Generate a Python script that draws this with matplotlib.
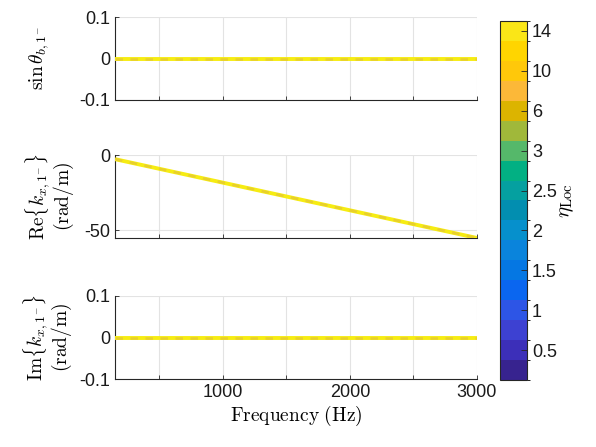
import numpy as np
import matplotlib
matplotlib.use('Agg')
import matplotlib.pyplot as plt
from matplotlib.colors import ListedColormap, BoundaryNorm

plt.rcParams['mathtext.fontset'] = 'cm'
plt.rcParams['font.family'] = ['Liberation Sans', 'DejaVu Sans']

###  data
freq = [150, 3000]
sinTheta = [0.0, 0.0]
reK = [-2.75, -55.0]
imK = [0.0, 0.0]
etaLabels = ['0.5', '1', '1.5', '2', '2.5', '3', '6', '10', '14']

###  parula-like 18 level colormap, bottom to top
cbColors = ['#37238f', '#3c2fb9', '#3d41d2', '#2d55e6', '#0a66f0', '#0577e3',
            '#0a84dc', '#0690cc', '#028eb0', '#05a0a0', '#02b083', '#55b86a',
            '#a0b83a', '#dcb400', '#fcb838', '#ffc80a', '#ffd500', '#fae617']
cmap = ListedColormap(cbColors)
norm = BoundaryNorm(np.arange(0, 19), cmap.N)

W, H = 596, 447
fig = plt.figure(figsize=(W/100, H/100), dpi=100)

def box(l, t, r, b):
    return [l/W, 1-b/H, (r-l)/W, (b-t)/H]

ax1 = fig.add_axes(box(115, 17, 477, 100))
ax2 = fig.add_axes(box(115, 155, 477, 238))
ax3 = fig.add_axes(box(115, 296, 477, 379))

lineCol = '#f6ec12'
dashCol = '#e8cf2c'
for ax, yv in [(ax1, sinTheta), (ax2, reK), (ax3, imK)]:
    ax.plot(freq, yv, color=lineCol, lw=2.8, solid_capstyle='butt', zorder=3)
    ax.plot(freq, yv, color=dashCol, lw=1.8, dashes=(3, 3), zorder=4)
    ax.set_xlim(150, 3000)
    ax.set_xticks([500, 1000, 1500, 2000, 2500, 3000])
    ax.set_xticklabels(['', '1000', '', '2000', '', '3000'])
    ax.grid(True, color='#e3e3e3', lw=0.8)
    ax.set_axisbelow(True)
    for s in ['top', 'right']:
        ax.spines[s].set_visible(False)
    for s in ['left', 'bottom']:
        ax.spines[s].set_color('#262626')
        ax.spines[s].set_linewidth(0.8)
    ax.tick_params(direction='in', length=3, width=0.6, colors='#262626',
                   labelsize=13, labelcolor='#1a1a1a')

for ax in [ax1, ax3]:
    ax.set_ylim(-0.1, 0.1)
    ax.set_yticks([-0.1, 0, 0.1])
    ax.set_yticklabels(['-0.1', '0', '0.1'])
ax2.set_ylim(-55, 0)
ax2.set_yticks([-50, 0])
ax2.set_yticklabels(['-50', '0'])

ax1.tick_params(labelbottom=False)
ax2.tick_params(labelbottom=False)

ax1.set_ylabel(r'$\sin\theta_{b,1^{-}}$', fontsize=14, labelpad=20)
ax2.set_ylabel(r'$\mathrm{Re}\{k_{x,1^{-}}\}$' + '\n' + r'$\mathrm{(rad/m)}$',
               fontsize=14, labelpad=6, linespacing=0.9)
ax3.set_ylabel(r'$\mathrm{Im}\{k_{x,1^{-}}\}$' + '\n' + r'$\mathrm{(rad/m)}$',
               fontsize=14, labelpad=4, linespacing=0.9)
ax3.set_xlabel(r'$\mathrm{Frequency\ (Hz)}$', fontsize=14, labelpad=2)

###  colorbar
cax = fig.add_axes(box(500, 21, 527, 380))
sm = plt.cm.ScalarMappable(cmap=cmap, norm=norm)
cb = fig.colorbar(sm, cax=cax)
cb.set_ticks(np.arange(1.5, 18, 2))
cb.set_ticklabels(etaLabels)
cb.outline.set_edgecolor('#262626')
cb.outline.set_linewidth(0.8)
cax.tick_params(direction='in', length=4, width=0.6, colors='#262626',
                labelsize=13, labelcolor='#1a1a1a')
cb.set_label(r'$\eta_{\mathrm{Loc}}$', fontsize=15, labelpad=0)

fig.savefig('out.png', dpi=100)
